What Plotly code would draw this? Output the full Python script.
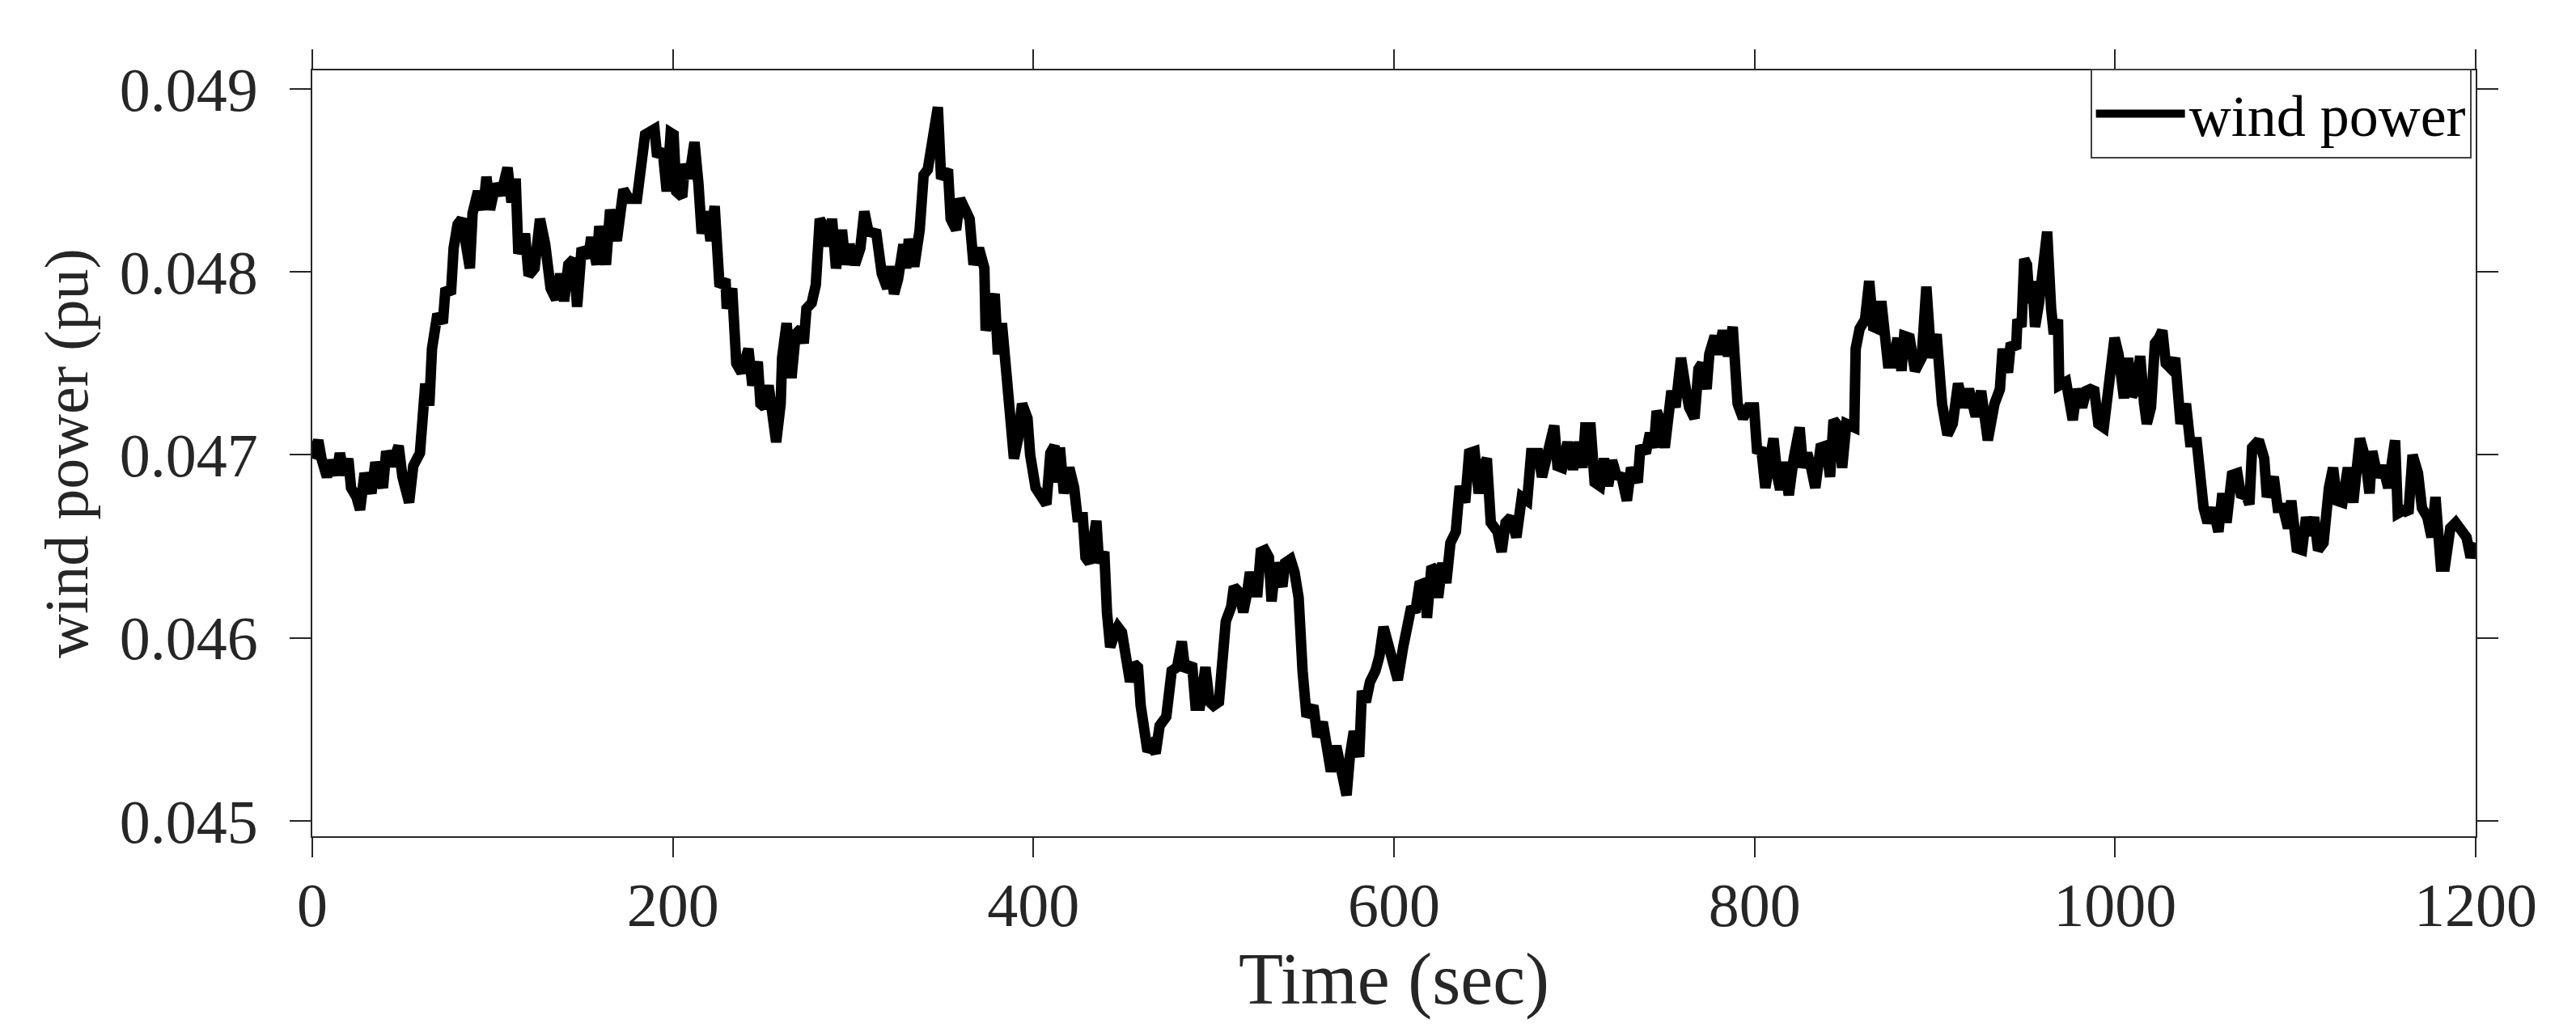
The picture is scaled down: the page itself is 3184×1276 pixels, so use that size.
import plotly.graph_objects as go

# ---- data (time in s, wind power in pu) ----
t_000_200 = [0, 3.3, 5.1, 8.1, 10.3, 13.3, 15.3, 17.8, 20.0, 21.5, 24.5, 26.5, 29.0, 32.8, 35.0,
             39.2, 41.0, 44.0, 47.9, 50.0, 53.7, 56.0, 59.7, 61.2, 62.7, 64.9, 66.4, 69.4, 72.4, 73.9,
             76.9, 78.4, 80.6, 82.9, 85.1, 87.4, 88.9, 91.9, 94.8, 96.6, 98.6, 101.6, 104.6, 108.3, 110.5,
             112.8, 114.3, 118.0, 120.0, 123.3, 126.3, 129.2, 132.2, 135.2, 137.5, 139.7, 142.0, 145.0, 146.9, 149.4,
             153.2, 154.7, 157.7, 159.2, 162.9, 165.2, 168.9, 172.6, 175.6, 180.1, 184.6, 189.8, 191.3, 194.3, 196.6,
             198.8]
p_000_200 = [0.04698, 0.04708, 0.04698, 0.04688, 0.04697, 0.04689, 0.04701, 0.04689, 0.04698, 0.04682,
             0.04677, 0.04670, 0.04690, 0.04679, 0.04696, 0.04682, 0.04702, 0.04694, 0.04705, 0.04688,
             0.04674, 0.04694, 0.04701, 0.04726, 0.04739, 0.04727, 0.04758, 0.04777, 0.04772, 0.04791,
             0.04788, 0.04813, 0.04826, 0.04829, 0.04813, 0.04802, 0.04832, 0.04844, 0.04834, 0.04852,
             0.04834, 0.04848, 0.04842, 0.04857, 0.04838, 0.04851, 0.04810, 0.04821, 0.04798, 0.04802,
             0.04829, 0.04815, 0.04791, 0.04785, 0.04799, 0.04784, 0.04804, 0.04807, 0.04781, 0.04813,
             0.04808, 0.04819, 0.04804, 0.04825, 0.04804, 0.04834, 0.04817, 0.04845, 0.04840, 0.04840,
             0.04875, 0.04878, 0.04863, 0.04867, 0.04844, 0.04876]

t_200_400 = [200.4, 201.9, 205.2, 206.7, 209.0, 212.0, 214.2, 216.0, 218.7, 220.9, 223.2, 225.9, 229.2, 229.9, 232.9,
             235.2, 238.1, 241.9, 244.1, 247.1, 248.6, 250.9, 253.1, 255.4, 257.3, 259.8, 260.6, 263.1, 265.8, 268.1,
             271.1, 272.6, 274.1, 277.0, 279.3, 281.5, 284.5, 286.0, 288.3, 290.5, 293.8, 295.7, 298.0, 301.0, 304.0,
             306.2, 308.5, 312.9, 315.9, 318.9, 320.7, 322.7, 324.9, 327.9, 329.4, 330.9, 333.9, 336.9, 339.1, 341.4,
             343.6, 345.1, 347.0, 348.8, 352.6, 354.1, 357.1, 359.3, 362.3, 364.6, 366.8, 369.8, 372.8, 373.5, 376.5,
             378.5, 380.3, 382.5, 384.8, 387.0, 389.2, 391.5, 393.7, 396.7, 398.2]
p_200_400 = [0.04875, 0.04844, 0.04841, 0.04859, 0.04851, 0.04871, 0.04848, 0.04821, 0.04833, 0.04817,
             0.04836, 0.04792, 0.04796, 0.04780, 0.04791, 0.04750, 0.04745, 0.04758, 0.04738, 0.04751,
             0.04728, 0.04726, 0.04738, 0.04717, 0.04707, 0.04728, 0.04753, 0.04772, 0.04742, 0.04766,
             0.04769, 0.04761, 0.04780, 0.04783, 0.04793, 0.04829, 0.04823, 0.04814, 0.04829, 0.04802,
             0.04823, 0.04804, 0.04815, 0.04804, 0.04813, 0.04833, 0.04822, 0.04821, 0.04799, 0.04791,
             0.04803, 0.04788, 0.04796, 0.04815, 0.04802, 0.04818, 0.04803, 0.04823, 0.04853, 0.04856,
             0.04867, 0.04880, 0.04890, 0.04851, 0.04856, 0.04829, 0.04823, 0.04840, 0.04834, 0.04829,
             0.04804, 0.04813, 0.04802, 0.04768, 0.04780, 0.04788, 0.04755, 0.04772, 0.04747, 0.04726,
             0.04698, 0.04709, 0.04728, 0.04720, 0.04700]

t_400_600 = [401.2, 404.2, 407.2, 409.4, 411.7, 413.2, 414.7, 416.9, 419.9, 422.6, 424.4, 427.4, 428.9, 431.1, 432.6,
             434.9, 436.4, 439.3, 440.8, 442.6, 445.3, 446.8, 449.1, 451.3, 453.6, 455.8, 458.0, 459.5, 461.8, 463.3,
             465.5, 467.8, 470.0, 473.7, 476.7, 479.7, 482.3, 484.2, 488.0, 489.9, 492.4, 495.4, 497.7, 499.9, 502.9,
             505.2, 506.7, 509.7, 511.2, 514.1, 516.4, 518.6, 520.1, 522.4, 524.3, 526.1, 528.4, 530.6, 532.1, 534.3,
             538.1, 539.6, 542.6, 544.8, 547.1, 549.3, 551.5, 555.3, 557.5, 560.5, 563.5, 565.0, 568.0, 570.2, 572.5,
             573.7, 575.5, 577.7, 580.7, 582.2, 584.4, 586.7, 589.7, 591.9, 594.2, 597.2]
p_400_600 = [0.04682, 0.04677, 0.04673, 0.04701, 0.04705, 0.04685, 0.04704, 0.04679, 0.04693, 0.04682,
             0.04666, 0.04666, 0.04644, 0.04641, 0.04655, 0.04664, 0.04641, 0.04647, 0.04614, 0.04595,
             0.04603, 0.04606, 0.04603, 0.04592, 0.04576, 0.04586, 0.04584, 0.04563, 0.04552, 0.04538,
             0.04541, 0.04537, 0.04552, 0.04557, 0.04582, 0.04584, 0.04598, 0.04582, 0.04586, 0.04563,
             0.04563, 0.04584, 0.04565, 0.04563, 0.04565, 0.04592, 0.04609, 0.04617, 0.04628, 0.04625,
             0.04614, 0.04625, 0.04636, 0.04625, 0.04625, 0.04647, 0.04648, 0.04644, 0.04620, 0.04641,
             0.04628, 0.04641, 0.04643, 0.04636, 0.04622, 0.04582, 0.04557, 0.04563, 0.04546, 0.04554,
             0.04538, 0.04527, 0.04541, 0.04530, 0.04516, 0.04514, 0.04535, 0.04549, 0.04535, 0.04571,
             0.04565, 0.04576, 0.04582, 0.04590, 0.04606, 0.04595]

t_600_800 = [599.5, 602.1, 605.1, 607.3, 609.6, 611.8, 614.1, 616.8, 618.3, 620.8, 623.0, 624.5, 626.8, 629.0, 631.3,
             634.3, 636.5, 639.5, 641.7, 644.7, 647.0, 649.2, 651.5, 653.7, 657.4, 659.7, 661.9, 664.9, 667.9, 670.9,
             673.9, 676.1, 679.9, 682.1, 685.1, 687.4, 688.9, 690.7, 693.3, 696.3, 699.3, 702.3, 704.6, 706.1, 709.1,
             711.3, 714.3, 716.5, 718.8, 721.0, 723.3, 726.3, 729.2, 731.5, 735.2, 736.7, 739.7, 742.0, 744.2, 745.7,
             747.2, 750.2, 752.4, 753.9, 756.2, 759.2, 761.4, 763.7, 766.7, 768.9, 770.8, 773.4, 774.9, 777.9, 780.1,
             782.4, 785.3, 787.9, 790.6, 793.6, 796.6]
p_600_800 = [0.04590, 0.04577, 0.04595, 0.04609, 0.04617, 0.04614, 0.04629, 0.04630, 0.04611, 0.04639,
             0.04637, 0.04622, 0.04641, 0.04630, 0.04652, 0.04658, 0.04683, 0.04674, 0.04701, 0.04702,
             0.04679, 0.04693, 0.04698, 0.04663, 0.04658, 0.04647, 0.04663, 0.04666, 0.04655, 0.04677,
             0.04675, 0.04701, 0.04701, 0.04688, 0.04701, 0.04715, 0.04716, 0.04694, 0.04693, 0.04707,
             0.04692, 0.04707, 0.04693, 0.04715, 0.04715, 0.04685, 0.04683, 0.04698, 0.04683, 0.04697,
             0.04689, 0.04688, 0.04675, 0.04693, 0.04685, 0.04705, 0.04701, 0.04712, 0.04704, 0.04724,
             0.04720, 0.04704, 0.04727, 0.04735, 0.04726, 0.04753, 0.04739, 0.04726, 0.04720, 0.04747,
             0.04750, 0.04736, 0.04755, 0.04765, 0.04755, 0.04768, 0.04754, 0.04770, 0.04728, 0.04720,
             0.04726]

t_800_1000 = [799.7, 801.5, 803.7, 806.0, 808.2, 810.5, 812.7, 814.2, 816.4, 819.0, 821.7, 825.0, 826.9, 829.2, 831.4,
              833.7, 836.6, 839.6, 841.9, 843.8, 846.4, 848.6, 850.9, 855.3, 856.1, 858.3, 861.3, 863.6, 865.8, 868.1,
              870.3, 872.5, 874.0, 877.0, 879.3, 881.5, 883.0, 886.0, 889.0, 892.7, 895.3, 898.0, 901.0, 904.0, 907.0,
              909.9, 912.9, 915.9, 918.9, 922.7, 925.7, 929.4, 931.6, 933.1, 936.1, 937.6, 940.6, 942.1, 945.1, 945.8,
              948.1, 949.6, 951.1, 952.6, 954.1, 955.6, 957.8, 960.5, 962.3, 964.5, 966.0, 968.3, 969.0, 972.8, 974.3,
              976.5, 978.8, 981.7, 984.0, 986.2, 988.5, 990.7, 993.7, 996.0, 997.5]
p_800_1000 = [0.04726, 0.04701, 0.04704, 0.04682, 0.04698, 0.04709, 0.04688, 0.04681, 0.04696, 0.04678,
              0.04698, 0.04715, 0.04693, 0.04701, 0.04693, 0.04682, 0.04704, 0.04705, 0.04688, 0.04719,
              0.04716, 0.04693, 0.04717, 0.04715, 0.04758, 0.04769, 0.04774, 0.04795, 0.04770, 0.04769,
              0.04784, 0.04765, 0.04750, 0.04750, 0.04764, 0.04746, 0.04765, 0.04764, 0.04746, 0.04753,
              0.04792, 0.04753, 0.04766, 0.04728, 0.04711, 0.04717, 0.04739, 0.04726, 0.04736, 0.04721,
              0.04735, 0.04708, 0.04720, 0.04728, 0.04736, 0.04758, 0.04745, 0.04761, 0.04758, 0.04774,
              0.04770, 0.04807, 0.04804, 0.04783, 0.04795, 0.04770, 0.04783, 0.04802, 0.04822, 0.04780,
              0.04766, 0.04774, 0.04738, 0.04740, 0.04726, 0.04719, 0.04736, 0.04726, 0.04735, 0.04736,
              0.04735, 0.04717, 0.04715, 0.04731, 0.04747]

t_1000_1200 = [999.7, 1001.9, 1004.9, 1007.2, 1009.4, 1011.7, 1013.9, 1016.1, 1017.6, 1019.9, 1022.1, 1024.4, 1026.2,
               1028.1, 1031.1, 1033.3, 1036.3, 1039.3, 1041.6, 1045.3, 1046.8, 1049.1, 1051.3, 1054.3, 1057.3, 1059.5,
               1061.8, 1064.8, 1067.8, 1070.0, 1072.2, 1074.5, 1076.0, 1079.7, 1082.7, 1084.2, 1088.0, 1090.2, 1093.2,
               1095.9, 1097.7, 1100.7, 1103.7, 1105.9, 1108.1, 1110.4, 1112.6, 1115.6, 1118.6, 1120.9, 1123.1, 1126.1,
               1129.1, 1132.1, 1135.8, 1138.8, 1141.1, 1142.6, 1145.6, 1148.5, 1151.5, 1153.0, 1155.3, 1156.8, 1160.5,
               1162.7, 1165.0, 1168.0, 1170.2, 1173.2, 1175.5, 1177.7, 1180.7, 1182.9, 1185.9, 1188.9, 1191.9, 1194.9,
               1197.2, 1200.0]
p_1000_1200 = [0.04764, 0.04755, 0.04731, 0.04753, 0.04732, 0.04736, 0.04754, 0.04728, 0.04717, 0.04726,
               0.04761, 0.04764, 0.04768, 0.04750, 0.04747, 0.04753, 0.04717, 0.04728, 0.04707, 0.04707,
               0.04685, 0.04671, 0.04663, 0.04671, 0.04658, 0.04679, 0.04663, 0.04689, 0.04690, 0.04677,
               0.04679, 0.04673, 0.04704, 0.04708, 0.04698, 0.04677, 0.04688, 0.04671, 0.04671, 0.04660,
               0.04675, 0.04649, 0.04648, 0.04666, 0.04656, 0.04666, 0.04648, 0.04652, 0.04682, 0.04693,
               0.04675, 0.04674, 0.04693, 0.04674, 0.04709, 0.04698, 0.04679, 0.04702, 0.04688, 0.04694,
               0.04682, 0.04698, 0.04708, 0.04668, 0.04670, 0.04668, 0.04700, 0.04690, 0.04671, 0.04666,
               0.04655, 0.04677, 0.04639, 0.04639, 0.04660, 0.04663, 0.04658, 0.04655, 0.04644, 0.04652]

x_tick_values = [0, 200, 400, 600, 800, 1000, 1200]
y_tick_values = [0.045, 0.046, 0.047, 0.048, 0.049]
y_tick_labels = ["0.045", "0.046", "0.047", "0.048", "0.049"]

segments = [(t_000_200, p_000_200), (t_200_400, p_200_400), (t_400_600, p_400_600),
            (t_600_800, p_600_800), (t_800_1000, p_800_1000), (t_1000_1200, p_1000_1200)]
time_sec, wind_power = [], []
for ts, ps in segments:
    assert len(ts) == len(ps), (len(ts), len(ps))
    time_sec += ts
    wind_power += ps

AX = "#262626"
FONT = "Liberation Serif, Times New Roman, serif"

fig = go.Figure()
fig.add_trace(go.Scatter(
    x=time_sec, y=wind_power, mode="lines", name="wind power",
    line=dict(color="black", width=13),
))

fig.update_layout(
    width=3184, height=1276, autosize=False,
    margin=dict(l=378, r=132, t=79, b=250, pad=0),
    paper_bgcolor="white", plot_bgcolor="white",
    font=dict(family=FONT, color=AX),
    showlegend=True,
    legend=dict(
        x=0.998, y=1.002, xanchor="right", yanchor="top",
        bgcolor="white", bordercolor="#404040", borderwidth=2,
        font=dict(family=FONT, size=72, color="black"),
        itemwidth=110,
    ),
)

fig.update_xaxes(
    range=[0, 1200], tickvals=x_tick_values,
    ticks="outside", ticklen=24, tickwidth=2, tickcolor=AX,
    showline=True, linecolor=AX, linewidth=2, mirror="ticks",
    showgrid=False, zeroline=False,
    tickfont=dict(family=FONT, size=76, color=AX),
    ticklabelstandoff=-6,
    title=dict(text="Time (sec)", font=dict(family=FONT, size=90, color=AX), standoff=0),
)
fig.update_yaxes(
    range=[0.044916, 0.0491015], tickvals=y_tick_values, ticktext=y_tick_labels,
    ticks="outside", ticklen=26, tickwidth=2, tickcolor=AX,
    showline=True, linecolor=AX, linewidth=2, mirror="ticks",
    showgrid=False, zeroline=False,
    tickfont=dict(family=FONT, size=76, color=AX),
    ticklabelstandoff=24,
    title=dict(text="wind power (pu)", font=dict(family=FONT, size=76, color=AX), standoff=14),
)

fig.write_html("out.html")
